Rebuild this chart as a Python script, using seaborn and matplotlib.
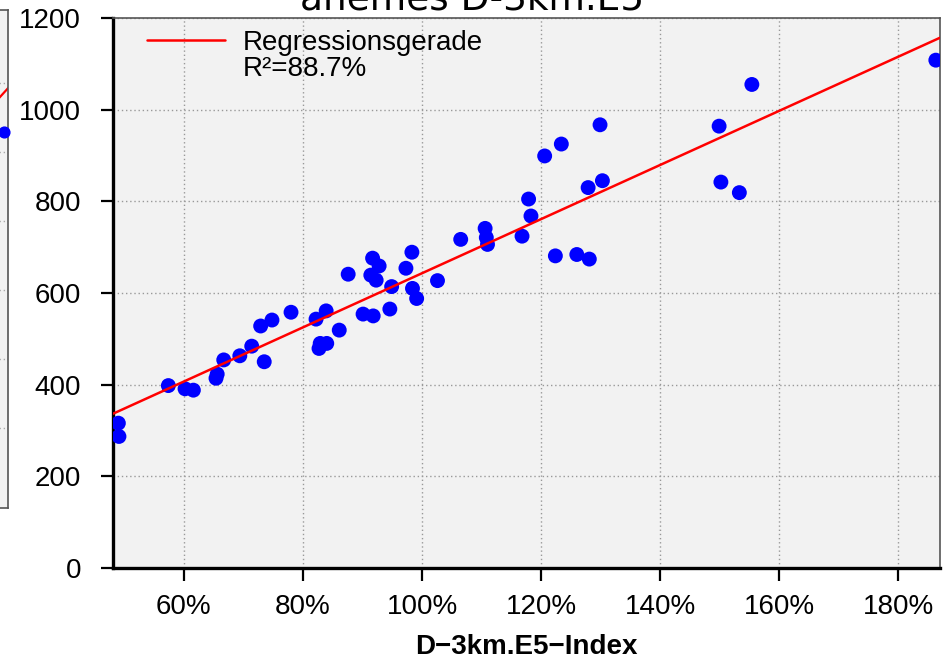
import numpy as np
import pandas as pd
import matplotlib
matplotlib.use("Agg")
import matplotlib.pyplot as plt
from matplotlib.lines import Line2D
import seaborn as sns

# ---------------- data ----------------
index_pct = [49.0, 49.1, 57.4, 60.2, 61.6, 65.4, 65.6, 66.7, 69.4, 71.4,
             73.5, 72.9, 74.8, 78.0, 82.2, 83.9, 82.9, 84.0, 82.7, 86.1,
             87.6, 90.1, 91.8, 91.7, 92.8, 91.4, 92.3, 94.9, 94.6, 98.3,
             97.3, 98.4, 99.1, 102.6, 106.5, 110.6, 110.8, 111.0, 116.8, 117.9,
             118.3, 120.6, 123.4, 122.4, 126.0, 128.1, 127.9, 130.3, 129.9, 149.9,
             150.2, 153.3, 155.4, 186.3]
values = [316, 287, 398, 391, 388, 414, 423, 454, 463, 484,
          450, 528, 541, 558, 543, 561, 490, 490, 479, 519,
          641, 554, 550, 676, 659, 639, 628, 614, 565, 689,
          654, 610, 588, 627, 717, 741, 721, 706, 724, 805,
          768, 899, 925, 681, 684, 674, 830, 845, 967, 964,
          842, 819, 1055, 1108]

x_ticks = [60, 80, 100, 120, 140, 160, 180]
x_tick_labels = ["60%", "80%", "100%", "120%", "140%", "160%", "180%"]
y_ticks = [0, 200, 400, 600, 800, 1000, 1200]
y_tick_labels = ["0", "200", "400", "600", "800", "1000", "1200"]

legend_line = "Regressionsgerade"
legend_r2 = "R\u00b2=88.7%"
x_label = "D\u22123km.E5\u2212Index"
title_text = "anemes D-3km.E5"

# fragment of the neighbouring panel (cut off at the left edge)
left_line_x = [290, 310]
left_line_y = [400, 422]
left_point_x = [304]
left_point_y = [376]

df = pd.DataFrame({"index": index_pct, "value": values})

# ---------------- style ----------------
sns.set_style("ticks")
plt.rcParams["font.family"] = ["Liberation Sans", "DejaVu Sans"]
plt.rcParams["font.size"] = 20
plt.rcParams["text.color"] = "black"
plt.rcParams["axes.labelcolor"] = "black"
plt.rcParams["xtick.color"] = "black"
plt.rcParams["ytick.color"] = "black"

W, H = 944, 667
fig = plt.figure(figsize=(W / 100, H / 100), dpi=100)

# neighbouring panel fragment
axl = fig.add_axes([-300 / W, (H - 508) / H, 308 / W, 498 / H])
axl.set_facecolor("#f2f2f2")
axl.set_xlim(0, 308)
axl.set_ylim(0, 498)
axl.plot(left_line_x, left_line_y, color="red", lw=1.6)
axl.scatter(left_point_x, left_point_y, s=60, color="blue", zorder=3, clip_on=False)
axl.set_yticks([80, 149, 218, 287, 356, 425])
axl.set_xticks([])
axl.grid(axis="y", linestyle=(0, (1, 2)), color="#aaaaaa", lw=1.0)
axl.tick_params(left=False, labelleft=False)
for sp in axl.spines.values():
    sp.set_color("#555555")
    sp.set_linewidth(1.2)

# main panel
ax = fig.add_axes([113 / W, (H - 568) / H, 827 / W, 550 / H])
ax.set_facecolor("#f2f2f2")
ax.set_xlim(48.1, 187.0)
ax.set_ylim(0, 1200)

sns.scatterplot(data=df, x="index", y="value", ax=ax, color="blue",
                s=115, edgecolor="none", linewidth=0, zorder=3, legend=False)
sns.regplot(data=df, x="index", y="value", ax=ax, scatter=False, ci=None,
            truncate=False, line_kws=dict(color="red", lw=1.8, zorder=4))
ax.set_xlim(48.1, 187.0)
ax.set_ylim(0, 1200)

ax.set_xticks(x_ticks)
ax.set_xticklabels(x_tick_labels)
ax.set_yticks(y_ticks)
ax.set_yticklabels(y_tick_labels)
ax.grid(True, linestyle=(0, (1, 2)), color="#999999", lw=1.0)
ax.set_axisbelow(True)

ax.tick_params(axis="both", direction="out", length=9, width=1.6, color="black",
               labelcolor="black", labelsize=20, top=False, right=False)
ax.tick_params(axis="y", pad=14)
ax.tick_params(axis="x", pad=10)

for side in ["left", "bottom"]:
    ax.spines[side].set_color("black")
    ax.spines[side].set_linewidth(2.4)
for side in ["top", "right"]:
    ax.spines[side].set_color("#555555")
    ax.spines[side].set_linewidth(1.2)

ax.set_xlabel(x_label, fontsize=20, fontweight="bold", labelpad=10, color="black")
ax.set_ylabel("")

handles = [Line2D([], [], color="red", lw=1.8),
           Line2D([], [], color="none", lw=0)]
ax.legend(handles, [legend_line, legend_r2], loc="upper left",
          bbox_to_anchor=(0.041, 0.978), frameon=False, fontsize=20,
          handlelength=2.8, handletextpad=0.65, labelspacing=0.0,
          borderpad=0, borderaxespad=0)

fig.text(0.5, (H - 9) / H, title_text, ha="center", va="baseline",
         fontsize=27, family=["DejaVu Sans"], color="black")

fig.savefig("out.png", dpi=100)
